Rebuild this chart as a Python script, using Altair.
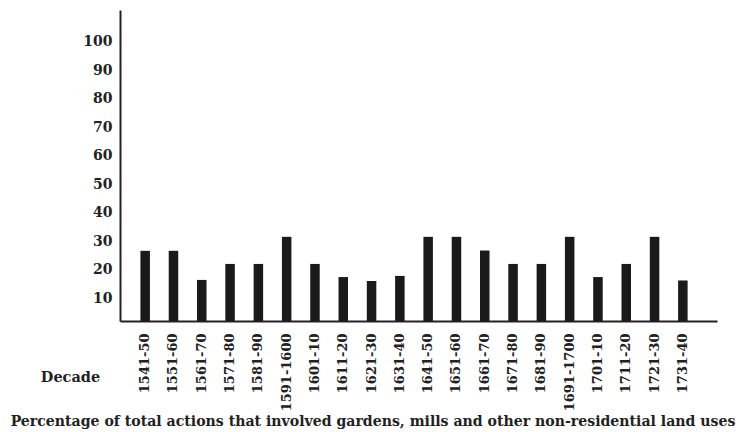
import altair as alt
import pandas as pd

decades = ["1541-50", "1551-60", "1561-70", "1571-80", "1581-90", "1591-1600",
           "1601-10", "1611-20", "1621-30", "1631-40", "1641-50", "1651-60",
           "1661-70", "1671-80", "1681-90", "1691-1700", "1701-10", "1711-20",
           "1721-30", "1731-40"]
percent = [24.6, 24.6, 14.4, 20, 20, 29.5, 20, 15.4, 14, 15.8, 29.5, 29.5,
           24.7, 20, 20, 29.5, 15.4, 20, 29.5, 14.2]
y_ticks = [10, 20, 30, 40, 50, 60, 70, 80, 90, 100]

df = pd.DataFrame({"decade": decades, "pct": percent})

FONT = "DejaVu Serif"

chart = alt.Chart(df).mark_bar(color="#1a1a1a").encode(
    x=alt.X("decade:N", sort=decades,
            scale=alt.Scale(paddingInner=0.664, paddingOuter=0.88, align=0.41),
            axis=alt.Axis(title="Percentage of total actions that involved gardens, mills and other non-residential land uses",
                          labelAngle=270, labelAlign="right", labelBaseline="middle",
                          labelPadding=12, ticks=False, labelFontSize=13,
                          labelFont=FONT, labelFontWeight="bold", labelColor="#222",
                          domainColor="#222", domainWidth=2,
                          titleFont=FONT, titleFontWeight="bold", titleFontSize=14.1,
                          titleColor="#222", titleX=252.5, titleY=104,
                          titleAnchor="middle", titleAlign="center",
                          titleBaseline="alphabetic", labelOverlap=False)),
    y=alt.Y("pct:Q", scale=alt.Scale(domain=[0, 109], nice=False),
            axis=alt.Axis(values=y_ticks, title="Decade", titleAngle=0,
                          titleX=-50, titleY=367.5, titleAlign="center",
                          titleBaseline="middle", titleFont=FONT,
                          titleFontWeight="bold", titleFontSize=14.5,
                          titleColor="#222",
                          ticks=False, grid=False, labelFontSize=14,
                          labelFont=FONT, labelFontWeight="bold",
                          labelColor="#222", labelPadding=8, labelOffset=6,
                          domainColor="#222", domainWidth=2)),
).properties(
    width=597, height=311,
    autosize=alt.AutoSizeParams(type="none"),
    padding={"left": 112, "top": 2, "right": 20, "bottom": 111},
    background="white",
).configure_view(stroke=None)

chart.save("out.html", embed_options={"renderer": "svg", "actions": False})
